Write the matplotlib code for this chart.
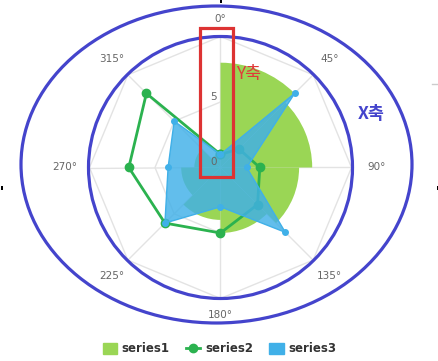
import numpy as np
import matplotlib.pyplot as plt
from matplotlib.patches import Rectangle, Ellipse, Patch
from matplotlib.lines import Line2D

# data (Highcharts-style polar demo)
angles = [0, 45, 90, 135, 180, 225, 270, 315]
angle_labels = ['0°', '45°', '90°', '135°', '180°', '225°', '270°', '315°']
series1 = [8, 7, 6, 5, 4, 3, 2, 1]
series2 = [1, 2, 3, 4, 5, 6, 7, 8]
series3 = [1, 8, 2, 7, 3, 6, 4, 5]
radial_ticks = [0, 5, 10]

c1, c2, c3 = '#9ad655', '#2bb24f', '#40b0e8'
grid_c = '#e3e3e3'

W, H = 439, 361
def fx(x): return x / W
def fy(y): return 1 - y / H

fig = plt.figure(figsize=(W / 100, H / 100), dpi=100)

cx, cy, R = 220.5, 167.5, 131
ax = fig.add_axes([fx(cx - R), fy(cy + R), 2 * R / W, 2 * R / H], projection='polar')
ax.set_theta_zero_location('N')
ax.set_theta_direction(-1)
ax.set_ylim(0, 10)
ax.grid(False)
ax.spines['polar'].set_visible(False)
ax.set_xticks([])
ax.set_yticks([])
ax.patch.set_alpha(0)

th = np.deg2rad(angles)
th_closed = np.append(th, th[0])

# polygon grid + spokes
for r in radial_ticks[1:]:
    ax.plot(th_closed, [r] * len(th_closed), color=grid_c, lw=1, zorder=0)
for t in th:
    ax.plot([t, t], [0, 10], color=grid_c, lw=1, zorder=0)

# series1: columns between spokes
step = np.deg2rad(45)
ax.bar(th + step / 2, series1, width=step, color=c1, lw=0, zorder=1)

# series2: closed line with markers
ax.plot(th_closed, series2 + series2[:1], color=c2, lw=2, marker='o', ms=6, zorder=2)

# series3: area
ax.fill(th, series3, color=c3, alpha=0.82, lw=0, zorder=3)
ax.plot(th_closed, series3 + series3[:1], color=c3, lw=1, marker='o', ms=4, zorder=3)

# angle labels
extra = [17, 23, 25, 23, 17, 23, 25, 23]
for t, lab, e in zip(th, angle_labels, extra):
    ax.annotate(lab, xy=(t, 10), xytext=(e * np.sin(t), e * np.cos(t)),
                textcoords='offset pixels', ha='center', va='center',
                fontsize=7.5, color='#666666', annotation_clip=False)

# radial labels
for r in radial_ticks[:2]:
    ax.annotate(str(r), xy=(0, r), xytext=(-7, 5), textcoords='offset pixels',
                ha='center', va='center', fontsize=7.5, color='#666666',
                annotation_clip=False, zorder=4)

# annotation marks
fig.add_artist(Ellipse((fx(216.5), fy(164.5)), 391 / W, 317 / H, transform=fig.transFigure,
                       fill=False, ec='#4444cc', lw=2.3))
fig.add_artist(Ellipse((fx(220.5), fy(167.5)), 264 / W, 262 / H, transform=fig.transFigure,
                       fill=False, ec='#4444cc', lw=2.3))
fig.add_artist(Rectangle((fx(200), fy(177)), 33 / W, 149 / H, transform=fig.transFigure,
                         fill=False, ec='#dd3333', lw=2.3))
fig.text(fx(249), fy(74), 'Y축', color='#e03a3a', fontsize=12.5, ha='center', va='center',
         family=['Noto Sans CJK KR', 'DejaVu Sans'])
fig.text(fx(371), fy(114), 'X축', color='#4444cc', fontsize=12.5, fontweight='bold',
         ha='center', va='center', family=['Noto Sans CJK KR', 'DejaVu Sans'])

# small edge artifacts
for (x, y) in [(1, 188), (437, 188), (220, 1)]:
    fig.add_artist(Rectangle((fx(x), fy(y + 2)), 2 / W, 4 / H, transform=fig.transFigure,
                             color='black', lw=0))
fig.add_artist(Line2D([fx(432), fx(439)], [fy(84), fy(84)], transform=fig.transFigure,
                      color='#cccccc', lw=1))

# legend
handles = [Patch(color=c1), Line2D([], [], color=c2, lw=2, marker='o', ms=6), Patch(color=c3)]
fig.legend(handles, ['series1', 'series2', 'series3'], loc='center',
           bbox_to_anchor=(0.5, fy(349)), ncol=3, frameon=False,
           prop={'weight': 'bold', 'size': 8.5}, labelcolor='#333333',
           handlelength=1.2, handleheight=1.1, handletextpad=0.4, columnspacing=1.4)

fig.savefig('out.png', dpi=100)
